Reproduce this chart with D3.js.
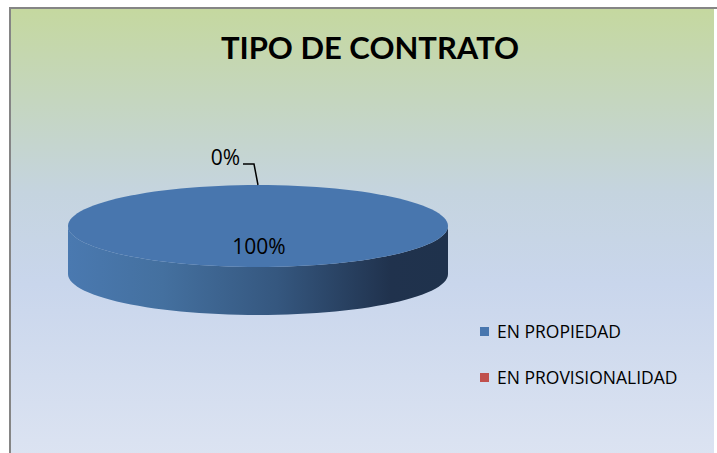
<!DOCTYPE html>
<html>
<head>
<meta charset="utf-8">
<script src="https://cdn.jsdelivr.net/npm/d3@7"></script>
<style>
  body { margin: 0; background: #fff; }
  svg { display: block; }
</style>
</head>
<body>
<div class="chart"></div>
<script>
var categories = ["EN PROPIEDAD", "EN PROVISIONALIDAD"];
var values = [100, 0];
var colors = ["#4876ae", "#c0504d"];
var title = "TIPO DE CONTRATO";

var fullWidth = 717, fullHeight = 453;

var svg = d3.select(".chart")
  .append("svg")
  .attr("width", fullWidth)
  .attr("height", fullHeight);

var defs = svg.append("defs");

// chart area background gradient
var bg = defs.append("linearGradient")
  .attr("id", "bg")
  .attr("x1", 0).attr("y1", 0).attr("x2", 0).attr("y2", 1);
bg.append("stop").attr("offset", "0%").attr("stop-color", "#c5d89f");
bg.append("stop").attr("offset", "40%").attr("stop-color", "#c5d4df");
bg.append("stop").attr("offset", "60%").attr("stop-color", "#c9d6ec");
bg.append("stop").attr("offset", "100%").attr("stop-color", "#dde4f2");

svg.append("rect")
  .attr("x", 10).attr("y", 8)
  .attr("width", 704).attr("height", 460)
  .attr("fill", "url(#bg)");

svg.append("line")
  .attr("x1", 9).attr("x2", 717).attr("y1", 8).attr("y2", 8)
  .attr("stroke", "#858585").attr("stroke-width", 2);
svg.append("line")
  .attr("x1", 10).attr("x2", 10).attr("y1", 7).attr("y2", 453)
  .attr("stroke", "#858585").attr("stroke-width", 2);

svg.append("text")
  .attr("x", 370).attr("y", 59)
  .attr("text-anchor", "middle")
  .style("font-family", "Lato, 'Open Sans', sans-serif")
  .style("font-weight", "bold")
  .style("font-size", "31px")
  .attr("fill", "#000")
  .text(title);

// 3d pie geometry
var cx = 258, cy = 226, rx = 190, ry = 41, depth = 48;

var pie = d3.pie().sort(null).value(d => d.value);
var data = categories.map((c, i) => ({ name: c, value: values[i], color: colors[i] }));
var arcs = pie(data);
var total = d3.sum(values);

function pt(a, dy) {
  return [cx + rx * Math.sin(a), cy - ry * Math.cos(a) + (dy || 0)];
}

// side wall gradient
var side = defs.append("linearGradient")
  .attr("id", "side")
  .attr("gradientUnits", "userSpaceOnUse")
  .attr("x1", cx - rx).attr("x2", cx + rx).attr("y1", 0).attr("y2", 0);
side.append("stop").attr("offset", "0%").attr("stop-color", "#4a79b0");
side.append("stop").attr("offset", "25%").attr("stop-color", "#44709f");
side.append("stop").attr("offset", "55%").attr("stop-color", "#35577f");
side.append("stop").attr("offset", "85%").attr("stop-color", "#20324d");
side.append("stop").attr("offset", "100%").attr("stop-color", "#1f324c");

var g = svg.append("g");

// front side walls: visible where angle in (PI/2, 3PI/2)
arcs.forEach(function (d) {
  var a0 = Math.max(d.startAngle, Math.PI / 2);
  var a1 = Math.min(d.endAngle, 3 * Math.PI / 2);
  if (a1 <= a0) return;
  var n = 60, top = [], bottom = [];
  for (var i = 0; i <= n; i++) {
    var a = a0 + (a1 - a0) * i / n;
    top.push(pt(a));
    bottom.push(pt(a, depth));
  }
  var pts = top.concat(bottom.reverse());
  g.append("path")
    .attr("d", d3.line()(pts) + "Z")
    .attr("fill", d.index === 0 ? "url(#side)" : d3.color(d.data.color).darker(1));
});

// top faces
arcs.forEach(function (d) {
  if (d.endAngle - d.startAngle <= 0) return;
  var n = 120, pts = [];
  var full = d.endAngle - d.startAngle >= 2 * Math.PI - 1e-6;
  if (!full) pts.push([cx, cy]);
  for (var i = 0; i <= n; i++) {
    pts.push(pt(d.startAngle + (d.endAngle - d.startAngle) * i / n));
  }
  g.append("path")
    .attr("d", d3.line()(pts) + "Z")
    .attr("fill", d.data.color);
});

// labels
var fmt = d => Math.round(d.value / total * 100) + "%";
arcs.forEach(function (d) {
  var span = d.endAngle - d.startAngle;
  if (span > 0.3) {
    svg.append("text")
      .attr("x", cx + 1).attr("y", cy + 28)
      .attr("text-anchor", "middle")
      .style("font-family", "'Open Sans', sans-serif")
      .style("font-size", "21px")
      .attr("fill", "#000")
      .text(fmt(d));
  } else {
    var a = (d.startAngle + d.endAngle) / 2;
    var p = pt(a);
    var elbow = [p[0] - 4, p[1] - 21];
    var end = [elbow[0] - 11, elbow[1]];
    svg.append("path")
      .attr("d", d3.line()([[p[0], p[1]], elbow, end]))
      .attr("fill", "none")
      .attr("stroke", "#000")
      .attr("stroke-width", 1.5);
    svg.append("text")
      .attr("x", end[0] - 3).attr("y", end[1] + 1)
      .attr("text-anchor", "end")
      .style("font-family", "'Open Sans', sans-serif")
      .style("font-size", "21px")
      .attr("fill", "#000")
      .text(fmt(d));
  }
});

// legend
var legend = svg.append("g").attr("transform", "translate(480, 327)");
var item = legend.selectAll("g")
  .data(data)
  .enter()
  .append("g")
  .attr("transform", (d, i) => `translate(0, ${i * 46})`);
item.append("rect")
  .attr("width", 9).attr("height", 9)
  .attr("fill", d => d.color);
item.append("text")
  .attr("x", 17).attr("y", 11)
  .style("font-family", "'Open Sans', sans-serif")
  .style("font-size", "17.5px")
  .attr("fill", "#000")
  .text(d => d.name);
</script>
</body>
</html>
